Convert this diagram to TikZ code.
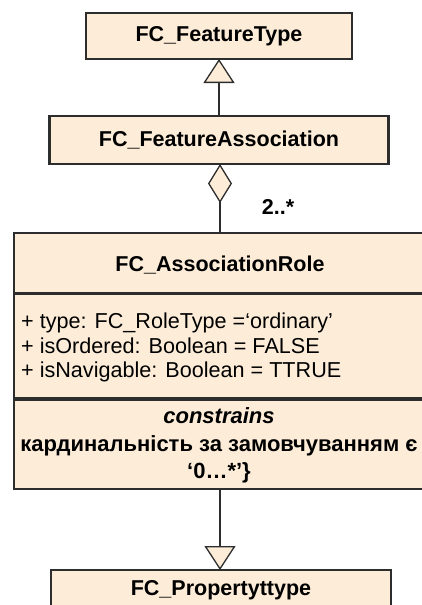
\documentclass[tikz,border=0pt]{standalone}
\usepackage{fontspec}
\setmainfont{Liberation Sans}
\usetikzlibrary{arrows.meta}
\definecolor{peach}{RGB}{253,237,216}
\definecolor{edge}{RGB}{45,45,45}
\tikzset{
  umlbox/.style={draw=edge, line width=2.4pt, fill=peach, inner sep=0pt, outer sep=0pt},
  boxtitle/.style={font=\fontsize{21.5}{24}\selectfont\bfseries, inner sep=0pt},
  conn/.style={draw=edge, line width=1.3pt},
  gentip/.style={-{Triangle[length=24pt,width=31pt,fill=peach]}},
  aggtip/.style={{Diamond[length=39pt,width=24pt,fill=peach]}-}
}
\begin{document}
\begin{tikzpicture}[x=1pt,y=-1pt]
\useasboundingbox (0,0) rectangle (422,605);
\clip (0,0) rectangle (422,605);
% boxes
\node[umlbox, minimum width=266pt, minimum height=46pt] (ft) at (219,36) {};
\node[boxtitle] (ftt) at (219,36) {FC\_FeatureType};
\node[umlbox, minimum width=339pt, minimum height=48pt] (fa) at (219,140) {};
\node[boxtitle] (fat) at (219,140) {FC\_FeatureAssociation};
\node[umlbox, minimum width=412pt, minimum height=256pt] (ar) at (220,361) {};
\node[boxtitle] (art) at (220,265) {FC\_AssociationRole};
\draw[draw=edge, line width=3pt] (14,293.5) -- (426,293.5);
\draw[draw=edge, line width=4pt] (14,398.5) -- (426,398.5);
\node[anchor=west, align=left, inner sep=0pt, font=\fontsize{21.6}{24.5}\selectfont] (attrs) at (21,347.5)
  {+ type: FC\_RoleType =‘ordinary’\\+ isOrdered: Boolean = FALSE\\+ isNavigable: Boolean = TTRUE};
\node[align=center, inner sep=0pt, font=\fontsize{22}{27.5}\selectfont\bfseries] (cons) at (219,445.5)
  {\textit{constrains}\\кардинальність за замовчуванням є\\‘0…*’\}};
\node[umlbox, minimum width=340pt, minimum height=48pt] (pt) at (221,594) {};
\node[boxtitle] (ptt) at (221,590) {FC\_Propertyttype};
% connectors
\draw[conn, gentip] (fa.north -| ft.south) -- (ft.south);
\draw[conn, aggtip] (fa.south -| 220,0) coordinate (aggs) -- (aggs |- ar.north);
\draw[conn, gentip] (ar.south) -- (ar.south |- pt.north);
\node[font=\fontsize{21.5}{24}\selectfont\bfseries, inner sep=0pt] (mult) at (278,207) {2..*};
\end{tikzpicture}
\end{document}
